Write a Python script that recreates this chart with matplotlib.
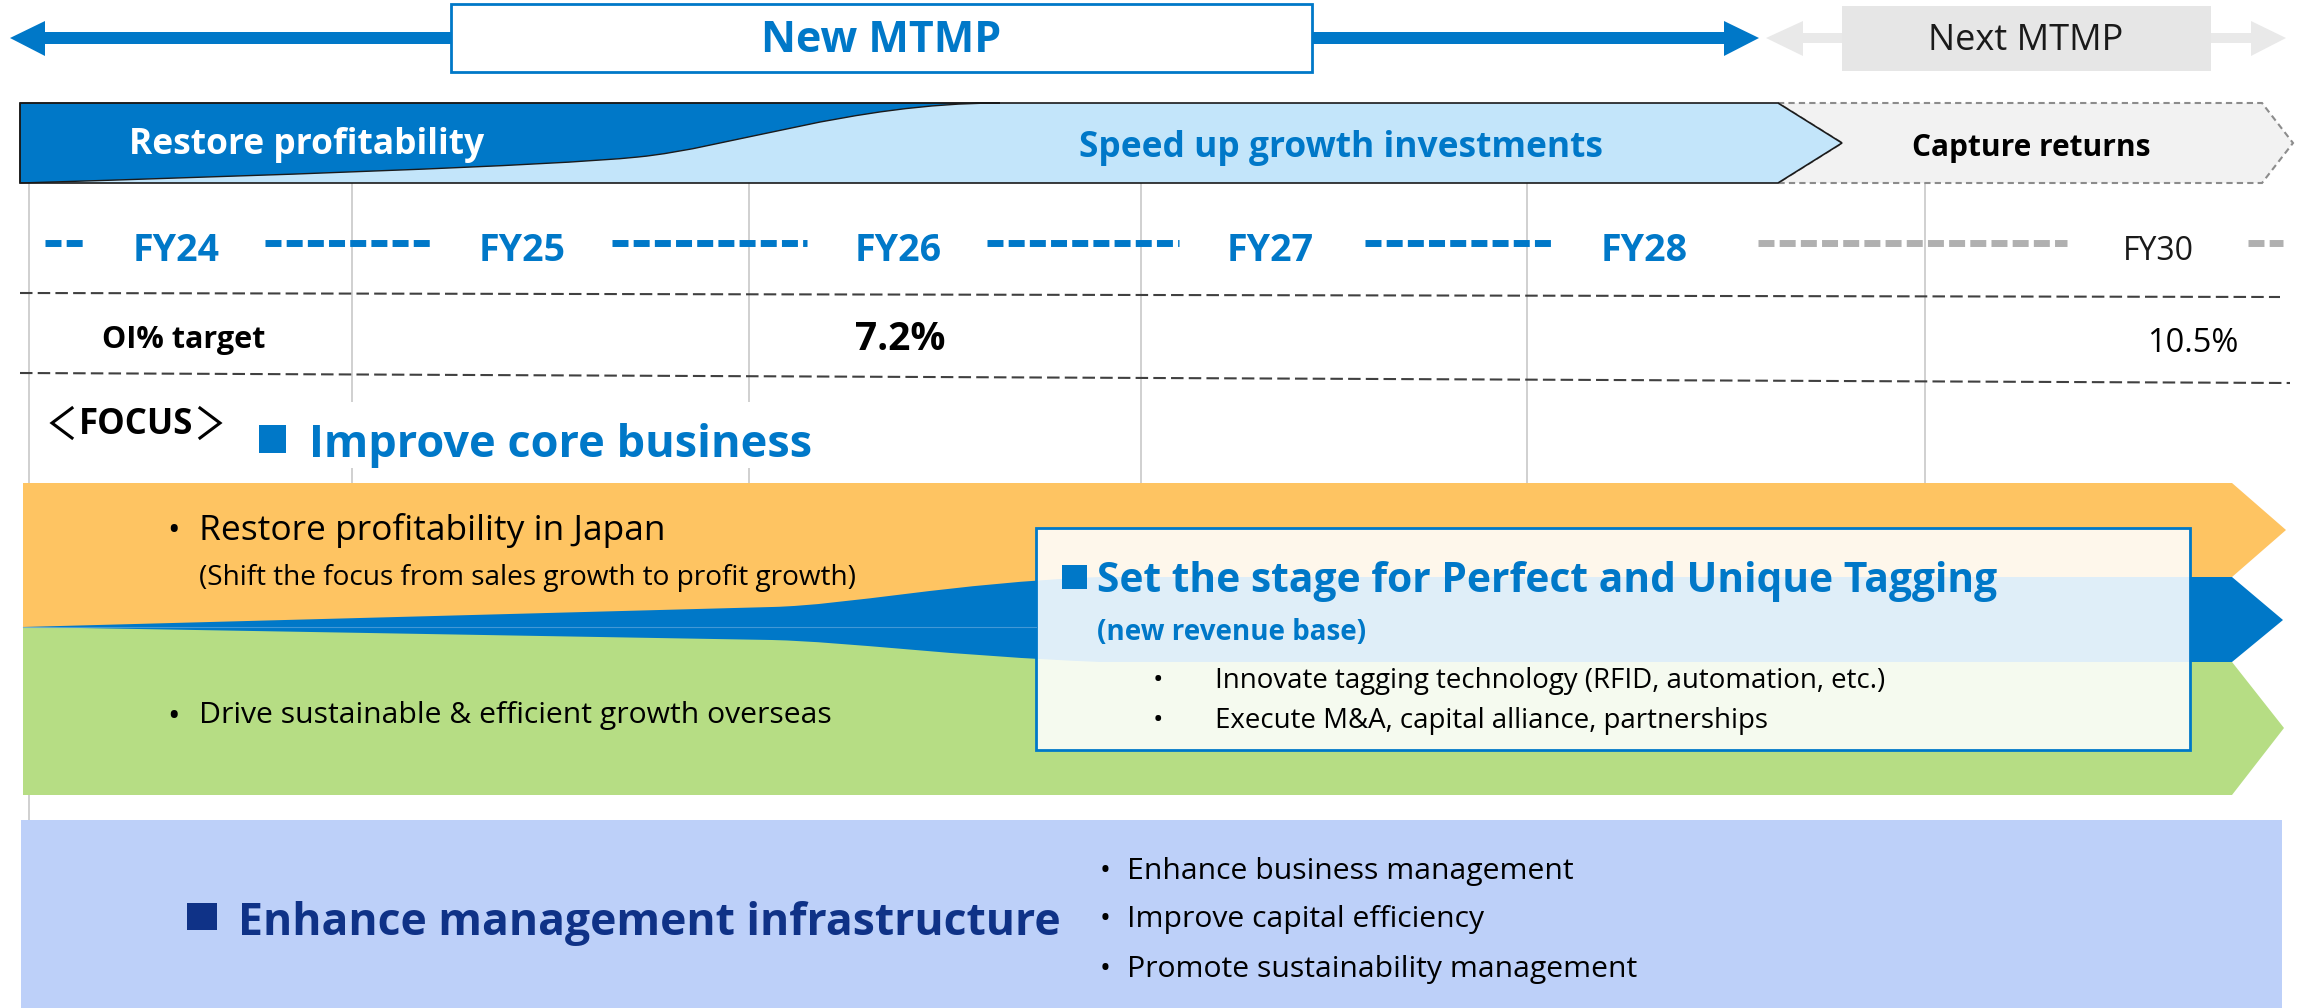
import matplotlib.pyplot as plt
from matplotlib.patches import Polygon, Rectangle, PathPatch
from matplotlib.path import Path

plt.rcParams['font.family'] = ['Open Sans', 'Noto Sans CJK JP', 'DejaVu Sans']

# ---- content of the roadmap ----
plan_names = ['New MTMP', 'Next MTMP']
phases = ['Restore profitability', 'Speed up growth investments', 'Capture returns']
fiscal_years = ['FY24', 'FY25', 'FY26', 'FY27', 'FY28']
next_year = 'FY30'
target_years = ['FY26', 'FY30']
target_values = [7.2, 10.5]
core_title = 'Improve core business'
core_items = ['Restore profitability in Japan',
              '(Shift the focus from sales growth to profit growth)',
              'Drive sustainable & efficient growth overseas']
tag_title = 'Set the stage for Perfect and Unique Tagging'
tag_sub = '(new revenue base)'
tag_items = ['Innovate tagging technology (RFID, automation, etc.)',
             'Execute M&A, capital alliance, partnerships']
infra_title = 'Enhance management infrastructure'
infra_items = ['Enhance business management',
               'Improve capital efficiency',
               'Promote sustainability management']

BLUE = '#0078c8'
LIGHT_BLUE = '#c3e5fa'
ORANGE = '#fec462'
GREEN = '#b6dd84'
INFRA = '#bdd0f9'
NAVY = '#0f3287'
GRID = '#c8c8c8'

fig = plt.figure(figsize=(23.05, 10.08), dpi=100)
ax = fig.add_axes([0, 0, 1, 1])
ax.set_xlim(0, 2305)
ax.set_ylim(1008, 0)
ax.axis('off')


def poly(pts, **kw):
    ax.add_patch(Polygon(pts, closed=True, **kw))


# ---------------------------
# Top: plan period arrows
poly([(10, 38), (45, 21), (45, 32), (451, 32), (451, 44), (45, 44), (45, 56)], color=BLUE, lw=0)
poly([(1312, 32), (1724, 32), (1724, 21), (1759, 38), (1724, 56), (1724, 44), (1312, 44)], color=BLUE, lw=0)
ax.add_patch(Rectangle((451, 4), 861, 68, facecolor='white', edgecolor=BLUE, lw=2))
ax.text(881, 41, plan_names[0], ha='center', va='center', fontsize=31,
        fontweight='bold', color=BLUE)

poly([(1766, 38), (1803, 21), (1803, 33), (2251, 33), (2251, 21), (2286, 38),
      (2251, 56), (2251, 43), (1803, 43), (1803, 56)], color='#e9e9e9', lw=0)
ax.add_patch(Rectangle((1842, 6), 369, 65, facecolor='#e6e6e6', lw=0))
ax.text(2026, 41, plan_names[1], ha='center', va='center', fontsize=26, color='#1a1a1a')

# ---------------------------
# Phase banner
poly([(1778, 103), (2262, 103), (2293, 143), (2262, 183), (1778, 183), (1842, 143)],
     facecolor='#f2f2f2', edgecolor='#8c8c8c', lw=1.5, linestyle=(0, (3, 2)))
banner = [(20, 103), (1778, 103), (1842, 143), (1778, 183), (20, 183)]
poly(banner, facecolor=LIGHT_BLUE, lw=0)
verts = [(20, 103), (1000, 103),
         (850, 103), (730, 148), (638, 157),
         (550, 166), (250, 176), (20, 183),
         (20, 103)]
codes = [Path.MOVETO, Path.LINETO,
         Path.CURVE4, Path.CURVE4, Path.CURVE4,
         Path.CURVE4, Path.CURVE4, Path.CURVE4,
         Path.CLOSEPOLY]
ax.add_patch(PathPatch(Path(verts, codes), facecolor=BLUE, edgecolor='#1a1a1a', lw=1))
poly(banner, fill=False, edgecolor='#1a1a1a', lw=1.2)
ax.text(129, 145, phases[0], ha='left', va='center', fontsize=25.5, fontweight='bold', color='white')
ax.text(1341, 148, phases[1], ha='center', va='center', fontsize=25.5, fontweight='bold', color=BLUE)
ax.text(2031, 148, phases[2], ha='center', va='center', fontsize=21.5, fontweight='bold', color='black')

# ---------------------------
# Year grid
grid_x = [352, 749, 1141, 1527, 1925]
for gx in grid_x:
    ax.plot([gx, gx], [183, 483], color=GRID, lw=1.2, zorder=0)
ax.plot([29, 29], [183, 820], color=GRID, lw=1.2, zorder=0)

dash = (0, (2.3, 0.75))
blue_runs = [(45, 86), (265, 434), (612, 807), (987, 1179), (1365, 1552)]
for x0, x1 in blue_runs:
    ax.plot([x0, x1], [243, 243], color=BLUE, lw=5, linestyle=dash)
for x0, x1 in [(1758, 2067), (2248, 2283)]:
    ax.plot([x0, x1], [243, 243], color='#b0b0b0', lw=5, linestyle=dash)

year_x = [176, 522, 898, 1270, 1644]
for yx, lab in zip(year_x, fiscal_years):
    ax.text(yx, 251, lab, ha='center', va='center', fontsize=27, fontweight='bold', color=BLUE)
ax.text(2158, 251, next_year, ha='center', va='center', fontsize=23, color='#1a1a1a')

# OI% target row
ax.plot([20, 2280], [293, 297], color='#404040', lw=1.5, linestyle=(0, (6, 2.5)))
ax.plot([20, 2290], [373, 383], color='#404040', lw=1.5, linestyle=(0, (6, 2.5)))
ax.text(184, 340, 'OI% target', ha='center', va='center', fontsize=22, fontweight='bold')
ax.text(900, 339, f'{target_values[0]:.1f}%', ha='center', va='center', fontsize=28, fontweight='bold')
ax.text(2193, 344, f'{target_values[1]:.1f}%', ha='center', va='center', fontsize=23.5)

# ---------------------------
# Focus: improve core business
ax.add_patch(Rectangle((45, 402), 785, 66, facecolor='white', lw=0, zorder=1))
ax.plot([72, 52, 72], [408, 423, 438], color='black', lw=2.2, zorder=2,
        solid_joinstyle='miter')
ax.plot([200, 220, 200], [408, 423, 438], color='black', lw=2.2, zorder=2,
        solid_joinstyle='miter')
ax.text(136, 425, 'FOCUS', ha='center', va='center', fontsize=25, fontweight='bold', zorder=2)
ax.add_patch(Rectangle((259, 425), 27, 28, color=BLUE, lw=0, zorder=2))
ax.text(309, 457, core_title, ha='left', va='baseline', fontsize=32.5, fontweight='bold',
        color=BLUE, zorder=2)

# bands
poly([(23, 483), (2232, 483), (2286, 530), (2232, 577), (2232, 627), (23, 627)], color=ORANGE, lw=0)
poly([(23, 627), (2232, 627), (2232, 662), (2284, 728), (2232, 795), (23, 795)], color=GREEN, lw=0)
wedge = [(23, 627), (772, 607),
         (850, 605), (950, 583), (1100, 577),
         (2232, 577), (2283, 620), (2232, 662), (1100, 662),
         (950, 656), (850, 642), (772, 640),
         (23, 627)]
wcodes = [Path.MOVETO, Path.LINETO,
          Path.CURVE4, Path.CURVE4, Path.CURVE4,
          Path.LINETO, Path.LINETO, Path.LINETO, Path.LINETO,
          Path.CURVE4, Path.CURVE4, Path.CURVE4,
          Path.CLOSEPOLY]
ax.add_patch(PathPatch(Path(wedge, wcodes), facecolor=BLUE, lw=0))
ax.plot([23, 1036], [627, 627], color='#5fa6dc', lw=0.8, alpha=0.7)

ax.text(174, 532, '•', ha='center', va='center', fontsize=24)
ax.text(199, 530, core_items[0], ha='left', va='center', fontsize=25.5)
ax.text(199, 578, core_items[1], ha='left', va='center', fontsize=20.2)
ax.text(174, 717, '•', ha='center', va='center', fontsize=24)
ax.text(199, 716, core_items[2], ha='left', va='center', fontsize=21.7)

# tagging box
ax.add_patch(Rectangle((1036, 528), 1154, 222, facecolor='white', alpha=0.88, lw=0))
ax.add_patch(Rectangle((1036, 528), 1154, 222, fill=False, edgecolor=BLUE, lw=2))
ax.add_patch(Rectangle((1062, 565), 25, 24, color=BLUE, lw=0))
ax.text(1097, 592, tag_title, ha='left', va='baseline', fontsize=29.3, fontweight='bold', color=BLUE)
ax.text(1097, 633, tag_sub, ha='left', va='center', fontsize=20, fontweight='bold', color=BLUE)
for yy, item in zip([681, 721], tag_items):
    ax.text(1158, yy, '•', ha='center', va='center', fontsize=20)
    ax.text(1215, yy, item, ha='left', va='center', fontsize=19.9)

# ---------------------------
# Management infrastructure
ax.add_patch(Rectangle((21, 820), 2261, 188, color=INFRA, lw=0))
ax.add_patch(Rectangle((187, 903), 30, 27, color=NAVY, lw=0))
ax.text(238, 935, infra_title, ha='left', va='baseline', fontsize=32, fontweight='bold', color=NAVY)
for yy, item in zip([872, 920, 969], infra_items):
    ax.text(1105, yy, '•', ha='center', va='center', fontsize=21)
    ax.text(1127, yy, item, ha='left', va='center', fontsize=21.7)

fig.savefig('out.png', dpi=100)
